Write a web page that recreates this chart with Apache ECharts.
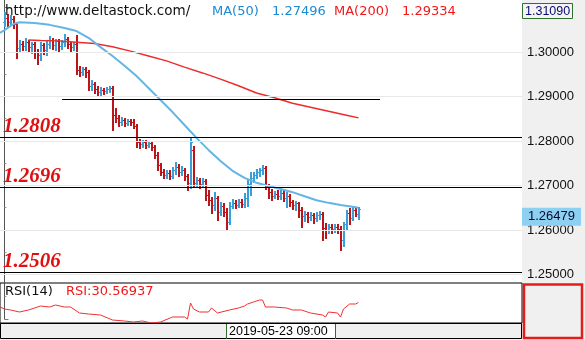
<!DOCTYPE html>
<html><head><meta charset="utf-8">
<script src="https://cdn.jsdelivr.net/npm/echarts@6/dist/echarts.min.js"></script>
<style>html,body{margin:0;padding:0;background:#fff}#c{width:585px;height:340px}</style>
</head><body><div id="c"></div>
<script>
// ---- data ----
// OHLC rows: [open, close, low, high]
const ohlc = [
[1.3067,1.3076,1.3058,1.3090],[1.3076,1.3067,1.3056,1.3085],[1.3067,1.3074,1.3061,1.3083],[1.3074,1.3063,1.3054,1.3081],
[1.3063,1.3009,1.2987,1.3067],[1.3009,1.3018,1.3000,1.3027],[1.3018,1.3014,1.3005,1.3025],[1.3014,1.3023,1.3005,1.3032],
[1.3023,1.3011,1.3000,1.3027],[1.3011,1.3018,1.2998,1.3023],[1.3018,1.3000,1.2987,1.3023],[1.3000,1.2993,1.2973,1.3007],
[1.2993,1.3016,1.2982,1.3023],[1.3016,1.3005,1.2996,1.3020],[1.3005,1.3018,1.2993,1.3027],[1.3018,1.3027,1.3009,1.3036],
[1.3027,1.3016,1.3007,1.3032],[1.3016,1.3025,1.3005,1.3029],[1.3025,1.3014,1.3000,1.3029],[1.3014,1.3023,1.3007,1.3027],
[1.3023,1.3029,1.3014,1.3041],[1.3029,1.3018,1.3009,1.3034],[1.3018,1.3011,1.3002,1.3023],[1.3011,1.3018,1.3005,1.3023],
[1.3018,1.2960,1.2951,1.3038],[1.2960,1.2955,1.2946,1.2969],[1.2955,1.2962,1.2948,1.2966],[1.2962,1.2955,1.2944,1.2966],
[1.2955,1.2924,1.2915,1.2960],[1.2924,1.2928,1.2915,1.2937],[1.2928,1.2917,1.2908,1.2933],[1.2917,1.2910,1.2903,1.2924],
[1.2910,1.2915,1.2903,1.2921],[1.2915,1.2912,1.2906,1.2919],[1.2912,1.2917,1.2908,1.2921],[1.2917,1.2919,1.2910,1.2924],
[1.2919,1.2858,1.2825,1.2924],[1.2858,1.2852,1.2843,1.2874],[1.2852,1.2843,1.2834,1.2858],[1.2843,1.2847,1.2836,1.2854],
[1.2847,1.2840,1.2834,1.2852],[1.2840,1.2845,1.2836,1.2849],[1.2845,1.2843,1.2836,1.2849],[1.2843,1.2834,1.2829,1.2849],
[1.2834,1.2798,1.2787,1.2838],[1.2798,1.2793,1.2784,1.2805],[1.2793,1.2798,1.2787,1.2802],[1.2798,1.2791,1.2784,1.2802],
[1.2791,1.2796,1.2787,1.2800],[1.2796,1.2787,1.2780,1.2800],[1.2787,1.2769,1.2762,1.2791],[1.2769,1.2746,1.2735,1.2775],
[1.2746,1.2730,1.2724,1.2751],[1.2730,1.2724,1.2717,1.2737],[1.2724,1.2728,1.2717,1.2735],[1.2728,1.2721,1.2715,1.2735],
[1.2721,1.2735,1.2717,1.2742],[1.2735,1.2742,1.2726,1.2753],[1.2742,1.2730,1.2721,1.2748],[1.2730,1.2735,1.2724,1.2744],
[1.2735,1.2721,1.2712,1.2739],[1.2721,1.2706,1.2690,1.2726],[1.2706,1.2798,1.2694,1.2809],[1.2780,1.2706,1.2697,1.2789],
[1.2706,1.2712,1.2697,1.2719],[1.2712,1.2703,1.2694,1.2717],[1.2703,1.2710,1.2699,1.2717],[1.2710,1.2679,1.2667,1.2715],
[1.2679,1.2667,1.2656,1.2690],[1.2667,1.2656,1.2638,1.2674],[1.2656,1.2672,1.2645,1.2685],[1.2672,1.2640,1.2622,1.2676],
[1.2640,1.2654,1.2634,1.2663],[1.2654,1.2640,1.2631,1.2661],[1.2640,1.2618,1.2600,1.2649],[1.2618,1.2654,1.2613,1.2663],
[1.2654,1.2661,1.2649,1.2670],[1.2661,1.2656,1.2649,1.2667],[1.2656,1.2663,1.2652,1.2670],[1.2663,1.2658,1.2652,1.2670],
[1.2658,1.2672,1.2652,1.2683],[1.2672,1.2703,1.2654,1.2712],[1.2703,1.2717,1.2679,1.2730],[1.2717,1.2724,1.2708,1.2730],
[1.2724,1.2730,1.2717,1.2737],[1.2730,1.2735,1.2721,1.2739],[1.2735,1.2739,1.2726,1.2746],[1.2739,1.2699,1.2692,1.2744],
[1.2699,1.2685,1.2672,1.2703],[1.2685,1.2676,1.2667,1.2692],[1.2676,1.2681,1.2672,1.2688],[1.2681,1.2676,1.2670,1.2690],
[1.2676,1.2683,1.2670,1.2694],[1.2683,1.2672,1.2665,1.2690],[1.2672,1.2676,1.2652,1.2685],[1.2676,1.2663,1.2654,1.2681],
[1.2663,1.2656,1.2647,1.2667],[1.2656,1.2661,1.2645,1.2665],[1.2661,1.2645,1.2629,1.2663],[1.2645,1.2631,1.2607,1.2652],
[1.2631,1.2636,1.2620,1.2643],[1.2636,1.2629,1.2618,1.2640],[1.2629,1.2634,1.2622,1.2640],[1.2634,1.2627,1.2616,1.2638],
[1.2627,1.2634,1.2620,1.2640],[1.2634,1.2636,1.2625,1.2643],[1.2636,1.2605,1.2578,1.2640],[1.2605,1.2600,1.2582,1.2616],
[1.2600,1.2607,1.2593,1.2613],[1.2607,1.2602,1.2593,1.2613],[1.2602,1.2607,1.2596,1.2613],[1.2607,1.2602,1.2593,1.2613],
[1.2602,1.2578,1.2555,1.2609],[1.2578,1.2613,1.2564,1.2618],[1.2613,1.2638,1.2600,1.2645],[1.2638,1.2627,1.2613,1.2649],
[1.2627,1.2645,1.2622,1.2652],[1.2645,1.2636,1.2631,1.2652],[1.2636,1.26479,1.2625,1.2652]
];
// moving averages: [bar index, value]
const ma50 = [[-1.5,1.3043],[0,1.3049],[3,1.3063],[5,1.3067],[10,1.3065],[15,1.3061],[20,1.3054],[24,1.3047],[28,1.3032],
[32,1.3011],[36,1.2991],[40,1.2969],[44,1.2946],[48,1.2919],[52,1.2892],[56,1.2865],[60,1.2836],[64,1.2807],[68,1.2780],
[72,1.2755],[76,1.2733],[80,1.2717],[84,1.2706],[88,1.2699],[92,1.2692],[96,1.2685],[100,1.2676],[104,1.2667],[108,1.2661],
[112,1.2656],[116,1.2652],[118,1.2650]];
const ma200 = [[8,1.3027],[12,1.3026],[18,1.3025],[24,1.3022],[30,1.3019],[36,1.3012],[42,1.3002],[48,1.2991],[54,1.2980],
[60,1.2966],[66,1.2953],[72,1.2939],[78,1.2924],[84,1.2908],[90,1.2897],[96,1.2885],[102,1.2876],[108,1.2867],[114,1.2858],[118,1.2852]];
// RSI(14): [bar index, value]
const rsi = [[-1.5,26],[0,24],[2,23],[5,21],[8,23],[12,27],[15,26],[17,28],[20,26],[22,26],[25,20],[28,19],[32,18],[36,13],
[40,12],[43,11],[46,12],[49,10],[52,11],[56,16],[60,16],[61,14],[62,30],[63,24],[65,21],[68,21],[69,25],[71,20],[75,23],
[78,25],[80,27],[81,29],[83,31],[85,33],[86,33],[87,26],[90,26],[94,25],[96,23],[99,23],[102,20],[106,18],[107,16],[108,21],
[111,20],[112,16],[113,24],[115,29],[117,29],[118,30.56937]];
const levels = [1.2808, 1.2696, 1.2506];
const trendLevel = 1.2894, trendFrom = 19.2, trendTo = 125.2;
const gridValues = [1.25, 1.26, 1.27, 1.28, 1.29, 1.30];
const lastPrice = 1.26479;
const topPriceLabel = '1.31090';
const siteLabel = 'http://www.deltastock.com/';
const ma50Label = 'MA(50)', ma50Value = '1.27496';
const ma200Label = 'MA(200)', ma200Value = '1.29334';
const rsiLabel = 'RSI(14)', rsiValueLabel = 'RSI:30.56937';
const dateLabel = '2019-05-23 09:00';

// ---- chart ----
const BLUE = '#3a9fd8', RED = '#bb1419';
const chart = echarts.init(document.getElementById('c'));
function renderOHLC(params, api) {
  const i = api.value(0), o = api.value(1), c = api.value(2), l = api.value(3), h = api.value(4);
  const pO = api.coord([i, o]), pC = api.coord([i, c]), pL = api.coord([i, l]), pH = api.coord([i, h]);
  const x = Math.floor(pO[0]) + 1;
  const col = c >= o ? BLUE : RED;
  const yo = Math.round(pO[1]) + 0.5, yc = Math.round(pC[1]) + 0.5;
  return {type: 'group', children: [
    {type: 'line', shape: {x1: x, y1: Math.round(pH[1]), x2: x, y2: Math.round(pL[1]) + 1}, style: {stroke: col, lineWidth: 2}},
    {type: 'line', shape: {x1: x - 2, y1: yo, x2: x, y2: yo}, style: {stroke: col, lineWidth: 1}},
    {type: 'line', shape: {x1: x, y1: yc, x2: x + 2, y2: yc}, style: {stroke: col, lineWidth: 1}}
  ]};
}
const levelLabel = {show: true, position: 'insideStartTop', distance: [3, 0],
  fontFamily: 'Liberation Serif', fontStyle: 'italic', fontWeight: 'bold', fontSize: 21, color: '#e01010',
  formatter: p => p.value.toFixed(4)};
const option = {
  animation: false,
  backgroundColor: '#ffffff',
  grid: [
    {left: 0, top: -37, width: 522, height: 356, outerBoundsMode: 'none', containLabel: false},
    {left: 0, top: 283, width: 522, height: 40, outerBoundsMode: 'none', containLabel: false,
     show: true, borderColor: '#000', borderWidth: 1, backgroundColor: '#fff'}
  ],
  xAxis: [
    {type: 'value', gridIndex: 0, min: -1.5, max: 172.5, show: false},
    {type: 'value', gridIndex: 1, min: -1.5, max: 172.5, show: false}
  ],
  yAxis: [
    {type: 'value', gridIndex: 0, position: 'right', min: 1.24, max: 1.32, interval: 0.01,
     axisLine: {show: true, lineStyle: {color: '#555'}},
     axisTick: {show: true, length: 4, lineStyle: {color: '#777'}},
     minorTick: {show: true, splitNumber: 2, length: 2, lineStyle: {color: '#999'}},
     splitLine: {show: false},
     axisLabel: {margin: 5, fontFamily: 'Liberation Sans', fontSize: 13, color: '#111',
       formatter: v => (v < 1.245 || v > 1.305) ? '' : v.toFixed(5)}},
    {type: 'value', gridIndex: 1, min: 10, max: 50, show: false}
  ],
  series: [
    {type: 'line', xAxisIndex: 0, yAxisIndex: 0, data: [], z: 0, silent: true,
     markLine: {symbol: 'none', silent: true, precision: 5, label: {show: false},
       data: gridValues.map(v => ({yAxis: v, lineStyle: {color: '#e8e8e8', width: 1, type: 'solid'}}))}},
    {type: 'custom', xAxisIndex: 0, yAxisIndex: 0, renderItem: renderOHLC, z: 2,
     data: ohlc.map((r, i) => [i, r[0], r[1], r[2], r[3]]),
     markLine: {symbol: 'none', silent: true, precision: 5,
       data: levels.map(v => ({yAxis: v, lineStyle: {color: '#000', width: 1, type: 'solid'}, label: levelLabel}))
         .concat([
           [{coord: [trendFrom, trendLevel], lineStyle: {color: '#000', width: 1, type: 'solid'}, label: {show: false}},
            {coord: [trendTo, trendLevel]}],
           {yAxis: lastPrice, lineStyle: {color: 'rgba(0,0,0,0)', width: 1}, label: {show: true, position: 'end', distance: 0, offset: [0, 8],
             formatter: p => p.value.toFixed(5), backgroundColor: '#8dd0f2', padding: [3, 6, 2, 6],
             fontFamily: 'Liberation Sans', fontSize: 13, color: '#0a0a30'}}
         ])}},
    {type: 'line', xAxisIndex: 0, yAxisIndex: 0, data: ma200, showSymbol: false, z: 3,
     lineStyle: {color: '#ee2b2b', width: 1.5}},
    {type: 'line', xAxisIndex: 0, yAxisIndex: 0, data: ma50, showSymbol: false, z: 3,
     lineStyle: {color: '#62b5e5', width: 2}},
    {type: 'line', xAxisIndex: 1, yAxisIndex: 1, data: rsi, showSymbol: false, z: 3,
     lineStyle: {color: '#ef3030', width: 1}}
  ],
  graphic: [
    {type: 'rect', z: -1, shape: {x: 522, y: 0, width: 63, height: 340}, style: {fill: '#f0f0f0'}},
    {type: 'rect', z: -1, shape: {x: 0, y: 323, width: 522, height: 17}, style: {fill: '#f0f0f0'}},
    {type: 'rect', z: 5, shape: {x: 0.5, y: 323.5, width: 521, height: 15}, style: {fill: 'none', stroke: '#000', lineWidth: 1}},
    {type: 'rect', z: 6, shape: {x: 227, y: 324, width: 108, height: 14}, style: {fill: '#fff'}},
    {type: 'line', z: 7, shape: {x1: 226.5, y1: 324, x2: 226.5, y2: 339}, style: {stroke: '#2e6e2e', lineWidth: 1}},
    {type: 'line', z: 7, shape: {x1: 335.5, y1: 324, x2: 335.5, y2: 339}, style: {stroke: '#2e6e2e', lineWidth: 1}},
    {type: 'text', z: 8, x: 229, y: 331.5, style: {text: dateLabel, font: '12.5px "Liberation Sans"', fill: '#000', verticalAlign: 'middle'}},
    {type: 'rect', z: 9, shape: {x: 524, y: 284.5, width: 58, height: 53.5}, style: {fill: '#f0f0f0', stroke: '#e51c1c', lineWidth: 2.5}},
    {type: 'rect', z: 9, shape: {x: 522.5, y: 3.5, width: 50, height: 15}, style: {fill: '#f4f4f4', stroke: '#2f6f2f', lineWidth: 1}},
    {type: 'text', z: 10, x: 525, y: 11.5, style: {text: topPriceLabel, font: '12.5px "Liberation Sans"', fill: '#0a0a70', verticalAlign: 'middle'}},
    {type: 'text', z: 10, x: 5, y: 11, style: {text: siteLabel, font: '13.5px "DejaVu Sans"', fill: '#111', verticalAlign: 'middle'}},
    {type: 'text', z: 10, x: 212, y: 12, style: {text: ma50Label, font: '13px "DejaVu Sans"', fill: '#1a8ad4', verticalAlign: 'middle'}},
    {type: 'text', z: 10, x: 272, y: 12, style: {text: ma50Value, font: '13px "DejaVu Sans"', fill: '#1a8ad4', verticalAlign: 'middle'}},
    {type: 'text', z: 10, x: 334, y: 12, style: {text: ma200Label, font: '13px "DejaVu Sans"', fill: '#f01818', verticalAlign: 'middle'}},
    {type: 'text', z: 10, x: 402, y: 12, style: {text: ma200Value, font: '13px "DejaVu Sans"', fill: '#f01818', verticalAlign: 'middle'}},
    {type: 'text', z: 10, x: 5, y: 292, style: {text: rsiLabel, font: '13px "DejaVu Sans"', fill: '#111', verticalAlign: 'middle'}},
    {type: 'text', z: 10, x: 66, y: 292, style: {text: rsiValueLabel, font: '13px "DejaVu Sans"', fill: '#f01818', verticalAlign: 'middle'}}
  ]
};
chart.setOption(option);
</script>
</body></html>
